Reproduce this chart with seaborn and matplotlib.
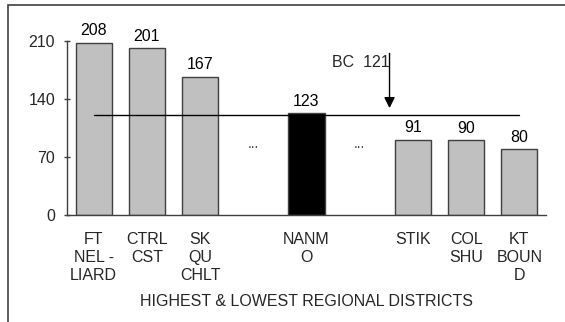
import pandas as pd
import numpy as np
import matplotlib
matplotlib.use("Agg")
import matplotlib.pyplot as plt
import seaborn as sns
from matplotlib.patches import Rectangle

sns.set_theme(style="white")
plt.rcParams['font.family'] = ['Liberation Sans', 'DejaVu Sans']

# data
slots = ["FT", "CTRL", "SK", "gap1", "NANMO", "gap2", "STIK", "COL", "KT"]
tick_labels = ["FT\nNEL -\nLIARD", "CTRL\nCST", "SK\nQU\nCHLT", "", "NANM\nO", "",
               "STIK", "COL\nSHU", "KT\nBOUN\nD"]
values = [208, 201, 167, np.nan, 123, np.nan, 91, 90, 80]
bar_colors = ["#C0C0C0", "#C0C0C0", "#C0C0C0", "#C0C0C0", "#000000", "#C0C0C0",
              "#C0C0C0", "#C0C0C0", "#C0C0C0"]
bc_avg = 121
gap_slots = [3, 5]
y_ticks = [0, 70, 140, 210]

FS = 11.5

df = pd.DataFrame({"district": slots, "rate": values})

fig = plt.figure(figsize=(5.65, 3.22), dpi=100)
ax = fig.add_axes([67 / 565, 1 - 215 / 322, (546 - 67) / 565, (215 - 41) / 322])

sns.barplot(data=df, x="district", y="rate", hue="district", palette=bar_colors,
            order=slots, hue_order=slots, legend=False, width=0.68,
            edgecolor="#404040", linewidth=1, ax=ax)

# value labels
for i, v in enumerate(values):
    if not np.isnan(v):
        ax.annotate(f"{int(v)}", (i, v), xytext=(0, 3), textcoords="offset points",
                    ha="center", va="bottom", fontsize=FS, color="black",
                    annotation_clip=False)

# gap markers
for g in gap_slots:
    ax.text(g, 86, "...", ha="center", va="center", fontsize=10, color="#404040")

# provincial average line + arrow
ax.plot([0, len(slots) - 1], [bc_avg, bc_avg], color="black", lw=1)
ax.annotate("", xy=(5.56, 129), xytext=(5.56, 195),
            arrowprops=dict(arrowstyle="-|>", color="black", lw=1,
                            mutation_scale=16, shrinkA=0, shrinkB=0),
            annotation_clip=False)
ax.text(4.48, 184, f"BC  {bc_avg}", ha="left", va="center", fontsize=FS)

ax.set_xlim(-0.5, len(slots) - 0.5)
ax.set_ylim(0, 210)
ax.set_yticks(y_ticks)
ax.set_yticklabels([str(t) for t in y_ticks], fontsize=FS)
ax.set_xticks(range(len(slots)))
ax.set_xticklabels(tick_labels, fontsize=FS, va="top", linespacing=1.25)
ax.set_xticks(np.arange(-0.5, len(slots), 1), minor=True)
ax.tick_params(axis="x", which="major", length=0, pad=12)
ax.tick_params(axis="x", which="minor", direction="inout", length=5, width=1, color="#404040")
ax.tick_params(axis="y", direction="inout", length=5, width=1, color="#404040", pad=6, left=True)

for s in ["top", "right"]:
    ax.spines[s].set_visible(False)
for s in ["left", "bottom"]:
    ax.spines[s].set_color("#404040")
    ax.spines[s].set_linewidth(1)

ax.set_xlabel("HIGHEST & LOWEST REGIONAL DISTRICTS", fontsize=FS, labelpad=8)
ax.set_ylabel("")

# outer frame (only top and left visible)
fig.patches.append(Rectangle((8 / 565, -0.5), 2, 1.5 - 5 / 322, transform=fig.transFigure,
                             fill=False, edgecolor="#404040", lw=1.2))

fig.savefig("out.png", dpi=100)
